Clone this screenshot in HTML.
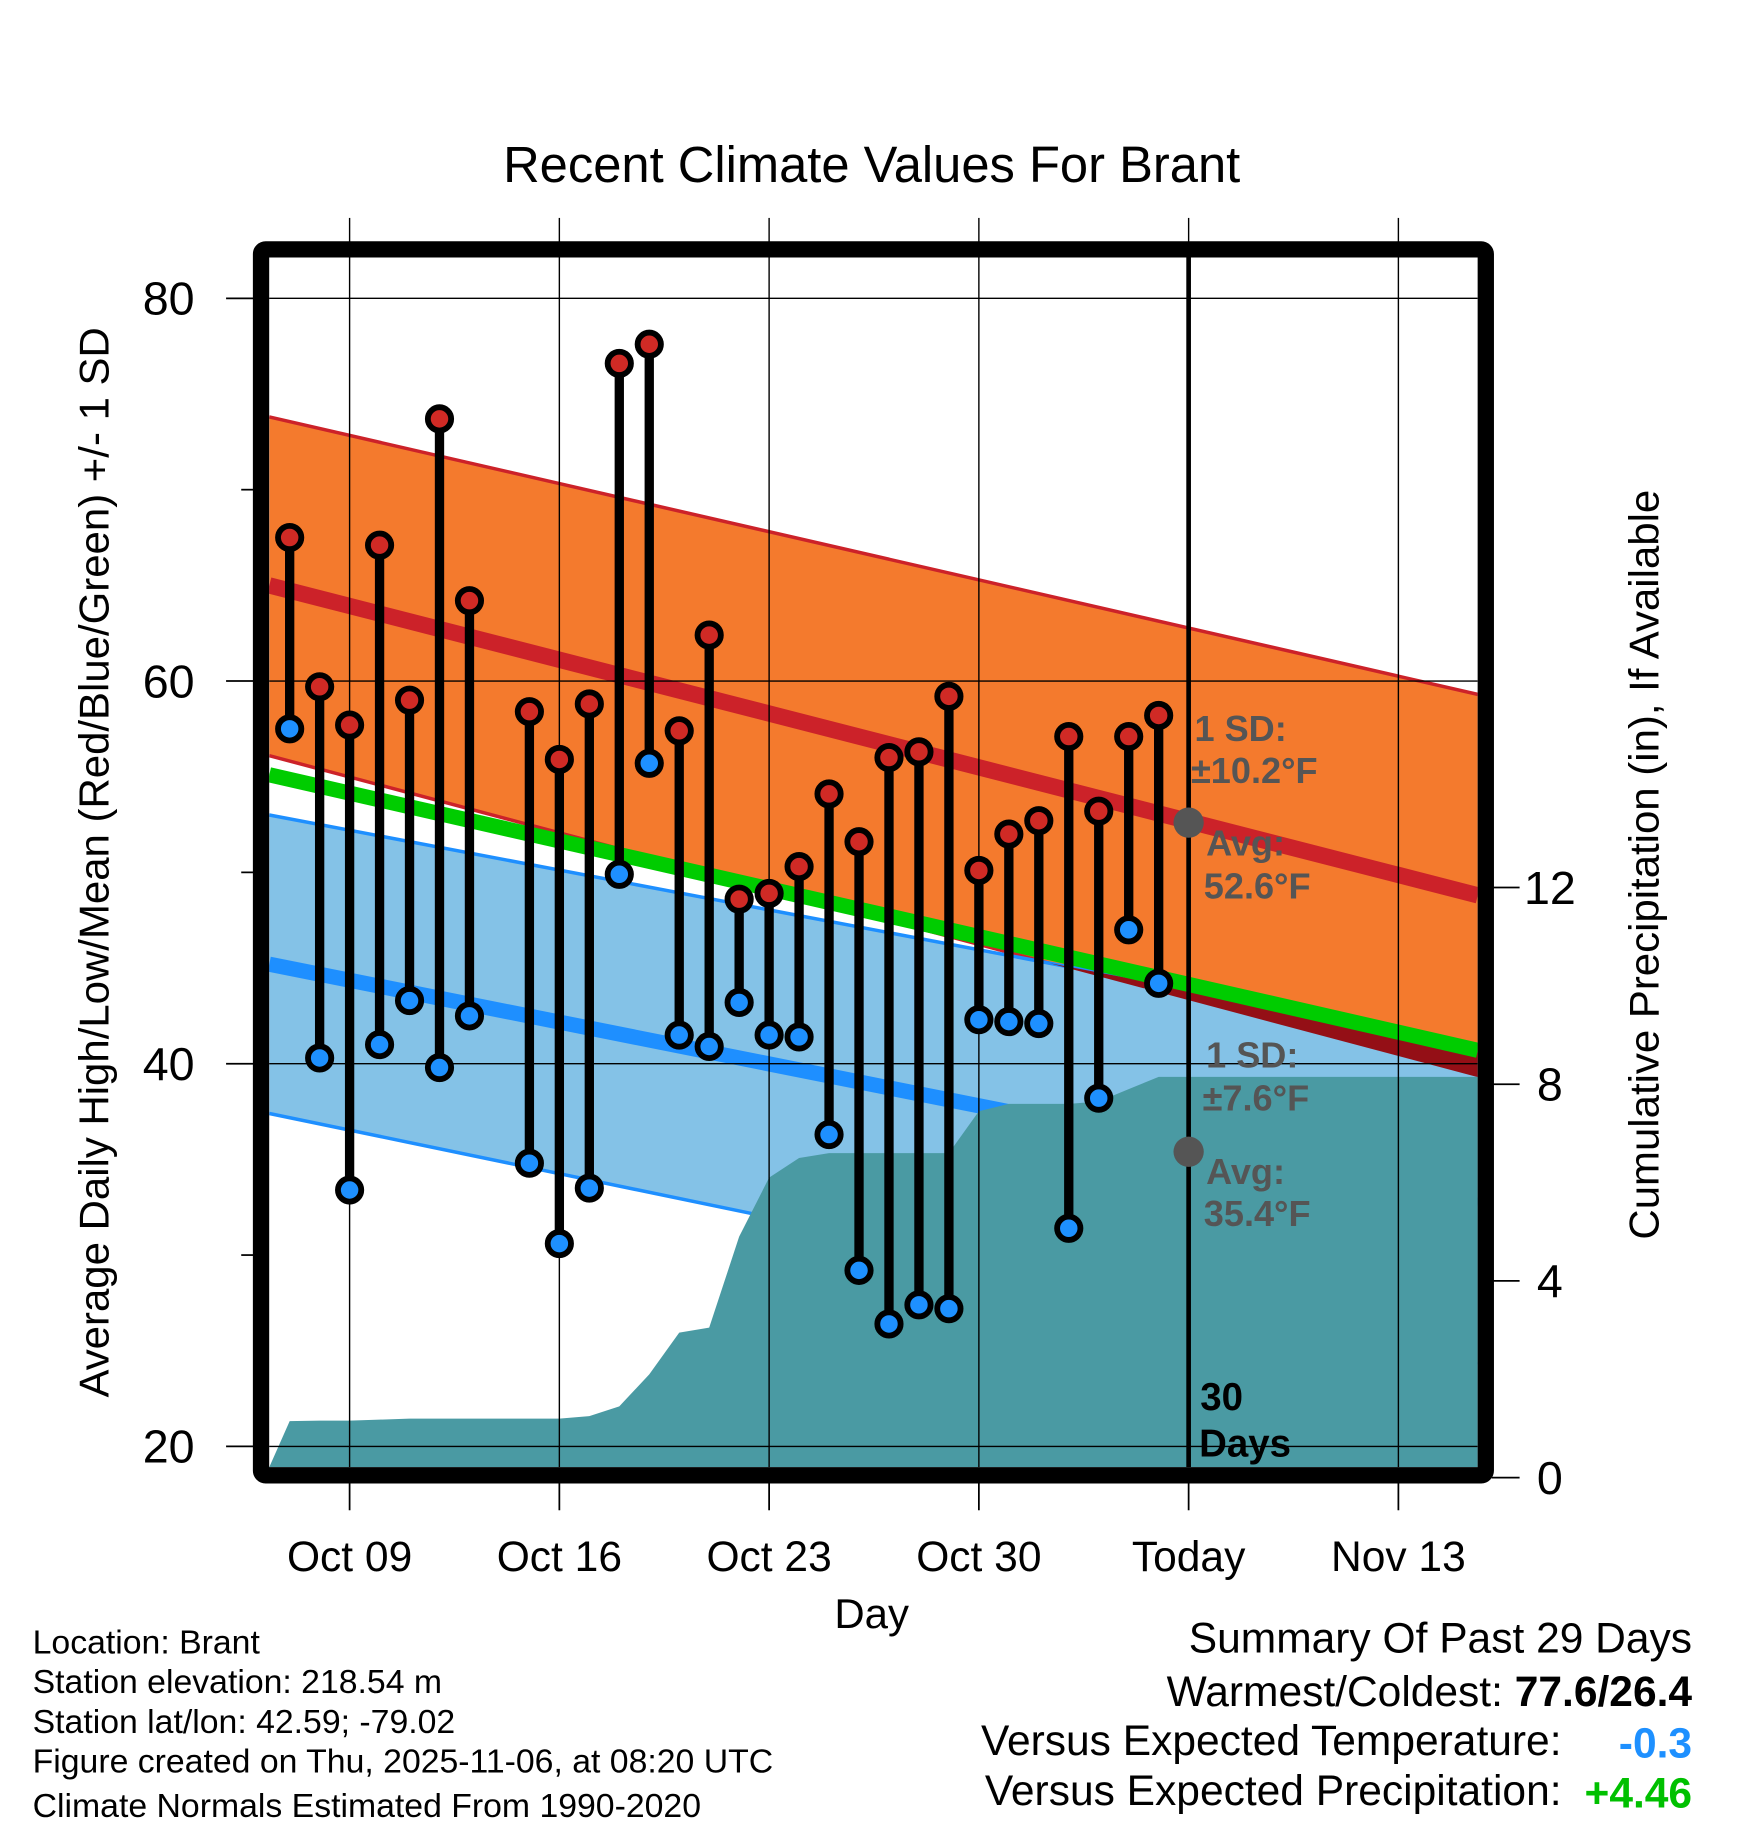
<!DOCTYPE html>
<html><head><meta charset="utf-8"><style>
html,body{margin:0;padding:0;background:#fff;}
svg{display:block;font-family:"Liberation Sans",Arial,sans-serif;}
</style></head><body>
<svg id="chart" width="1748" height="1828" viewBox="0 0 1500 1568.65" xmlns="http://www.w3.org/2000/svg">
<defs><clipPath id="plotclip"><rect x="231" y="221" width="1037" height="1038"/></clipPath></defs>
<text x="748" y="156" font-size="43.5" text-anchor="middle">Recent Climate Values For Brant</text>
<g id="grid-above"></g>
<g id="plot" clip-path="url(#plotclip)"></g>
<rect x="224" y="214" width="1051" height="1052" fill="none" stroke="#000" stroke-width="14" rx="4"/>
<g id="axes"></g>
<text transform="translate(93,740) rotate(-90)" font-size="36" text-anchor="middle">Average Daily High/Low/Mean (Red/Blue/Green) +/- 1 SD</text>
<text transform="translate(1423,742) rotate(-90)" font-size="36" text-anchor="middle">Cumulative Precipitation (in), If Available</text>
<text x="748" y="1397" font-size="36" text-anchor="middle">Day</text>
<g font-size="29">
<text x="28" y="1419">Location: Brant</text>
<text x="28" y="1453">Station elevation: 218.54 m</text>
<text x="28" y="1487">Station lat/lon: 42.59; -79.02</text>
<text x="28" y="1521">Figure created on Thu, 2025-11-06, at 08:20 UTC</text>
<text x="28" y="1559">Climate Normals Estimated From 1990-2020</text>
</g>
<g font-size="36.5" text-anchor="end">
<text x="1452" y="1418">Summary Of Past 29 Days</text>
<text x="1452" y="1464">Warmest/Coldest:  <tspan font-weight="bold">77.6/26.4</tspan></text>
<text x="1340" y="1506">Versus Expected Temperature:</text>
<text x="1452" y="1508" fill="#1e90ff" font-weight="bold">-0.3</text>
<text x="1340" y="1549">Versus Expected Precipitation:</text>
<text x="1452" y="1551" fill="#00c000" font-weight="bold">+4.46</text>
</g>
</svg>
<script>
// ---- data ----
const normalDays = [-2.68, 37.65];
const highUpper = [73.8, 59.3];
const highMean = [65.0, 48.8];
const highLower = [56.1, 39.3];
const lowUpper = [53.0, 41.0];
const lowMean = [45.2, 32.6];
const lowLower = [37.4, 24.3];
const obsDays = [-2,-1,0,1,2,3,4,6,7,8,9,10,11,12,13,14,15,16,17,18,19,20,21,22,23,24,25,26,27];
const highs = [67.5,59.7,57.7,67.1,59.0,73.7,64.2,58.4,55.9,58.8,76.6,77.6,57.4,62.4,48.6,48.9,50.3,54.1,51.6,56.0,56.3,59.2,50.1,52.0,52.7,57.1,53.2,57.1,58.2];
const lows = [57.5,40.3,33.4,41.0,43.3,39.8,42.5,34.8,30.6,33.5,49.9,55.7,41.5,40.9,43.2,41.5,41.4,36.3,29.2,26.4,27.4,27.2,42.3,42.2,42.1,31.4,38.2,47.0,44.2];
const precipDays = [-2,-1,0,1,2,3,4,5,6,7,8,9,10,11,12,13,14,15,16,17,18,19,20,21,22,23,24,25,26,27];
const precipVals = [1.15,1.16,1.16,1.18,1.2,1.2,1.2,1.2,1.2,1.2,1.25,1.45,2.1,2.95,3.05,4.9,6.1,6.5,6.6,6.6,6.6,6.6,6.6,7.45,7.6,7.6,7.6,7.65,7.9,8.15];
const xTickDays = [0,7,14,21,28,35];
const xTickLabels = ["Oct 09","Oct 16","Oct 23","Oct 30","Today","Nov 13"];
const yTicks = [80,60,40,20];
const yMinor = [70,50,30];
const y2Ticks = [0,4,8,12];
const todayDay = 28;
const avgHigh = 52.6, avgLow = 35.4;

// ---- axes ----
const X = d => 300 + d * 25.714;
const Y = t => 256 + (80 - t) * 16.42;
const Y2 = p => 1268 - p * 42.2;
const NS = "http://www.w3.org/2000/svg";
function mk(parent, tag, attrs){const e=document.createElementNS(NS,tag);for(const k in attrs)e.setAttribute(k,attrs[k]);parent.appendChild(e);return e;}
const plot = document.getElementById('plot');
const axes = document.getElementById('axes');
const above = document.getElementById('grid-above');
const lerp = (arr, d) => arr[0] + (arr[1]-arr[0])*(d-normalDays[0])/(normalDays[1]-normalDays[0]);
const d0 = normalDays[0], d1 = normalDays[1];
function band(up, lo, fill, name){
  const p = mk(plot,'polygon',{points:`${X(d0)},${Y(up[0])} ${X(d1)},${Y(up[1])} ${X(d1)},${Y(lo[1])} ${X(d0)},${Y(lo[0])}`,fill:fill});
  
  
}
function line(arr, color, w, name){
  const l = mk(plot,'line',{x1:X(d0),y1:Y(arr[0]),x2:X(d1),y2:Y(arr[1]),stroke:color,'stroke-width':w});
  
  
}
band(highUpper, highLower, '#f47a2d', 'high-sd-band');
line(highUpper,'#cc2229',3,'high-upper-line');
line(highLower,'#cc2229',3,'high-lower-line');
line(highMean,'#cc2229',14,'high-mean-line');
band(lowUpper, lowLower, '#84c2e7', 'low-sd-band');
line(lowUpper,'#1e8fff',3,'low-upper-line');
line(lowLower,'#1e8fff',3,'low-lower-line');
line(lowMean,'#1e8fff',13,'low-mean-line');
// overlap (dark red) region
{
  const diff = d => lerp(lowUpper,d) - lerp(highLower,d);
  const a = diff(d0), b = diff(d1);
  if (b > 0 && a < 0) {
    const dc = d0 + (d1-d0)*(-a)/(b-a);
    const p = mk(plot,'polygon',{points:`${X(dc)},${Y(lerp(highLower,dc))} ${X(d1)},${Y(lerp(lowUpper,d1))} ${X(d1)},${Y(lerp(highLower,d1))}`,fill:'#940f16'});
    
    
  }
}
const meanArr = [(highMean[0]+lowMean[0])/2,(highMean[1]+lowMean[1])/2];
line(meanArr,'#00cc00',13,'mean-line');
// precipitation
{
  let pts = `${X(d0)},1262 ${X(d0)},1259 `;
  precipDays.forEach((d,i)=>{pts += `${X(d)},${Y2(precipVals[i])} `;});
  pts += `${X(d1)},${Y2(precipVals[precipVals.length-1])} ${X(d1)},1262`;
  const p = mk(plot,'polygon',{points:pts,fill:'#4a9aa3'});
  
  
}
// grid
yTicks.forEach(t=>{
  const g = mk(plot,'line',{x1:194,x2:1268,y1:Y(t),y2:Y(t),stroke:'#000','stroke-width':1.2});
  
  
  const tk = mk(axes,'line',{x1:194,x2:220,y1:Y(t),y2:Y(t),stroke:'#000','stroke-width':1.5});
  
  
  const lb = mk(axes,'text',{x:167,y:Y(t)+14,'font-size':40,'text-anchor':'end'});
  lb.textContent = t;
  
  
});
yMinor.forEach(t=>{
  const tk = mk(axes,'line',{x1:207,x2:220,y1:Y(t),y2:Y(t),stroke:'#000','stroke-width':1.5});
  
  
});
xTickDays.forEach((d,i)=>{
  const g = mk(plot,'line',{x1:X(d),x2:X(d),y1:221,y2:1259,stroke:'#000','stroke-width':1.2});
  
  
  const ga = mk(above,'line',{x1:X(d),x2:X(d),y1:187,y2:210,stroke:'#000','stroke-width':1.2});
  
  
  const tk = mk(axes,'line',{x1:X(d),x2:X(d),y1:1270,y2:1296,stroke:'#000','stroke-width':1.5});
  
  
  const lb = mk(axes,'text',{x:X(d),y:1348,'font-size':36.5,'text-anchor':'middle'});
  lb.textContent = xTickLabels[i];
  
  
});
y2Ticks.forEach(p=>{
  const tk = mk(axes,'line',{x1:1280,x2:1304,y1:Y2(p),y2:Y2(p),stroke:'#000','stroke-width':1.5});
  
  
  const lb = mk(axes,'text',{x:1330,y:Y2(p)+14,'font-size':40,'text-anchor':'middle'});
  lb.textContent = p;
  
  
});
// today line
{
  const l = mk(plot,'line',{x1:X(todayDay),x2:X(todayDay),y1:221,y2:1259,stroke:'#000','stroke-width':4});
  
  
}
// stems & markers
obsDays.forEach((d,i)=>{
  const s = mk(plot,'line',{x1:X(d),x2:X(d),y1:Y(highs[i]),y2:Y(lows[i]),stroke:'#000','stroke-width':8});
  
  
});
obsDays.forEach((d,i)=>{
  const h = mk(plot,'circle',{cx:X(d),cy:Y(highs[i]),r:10,fill:'#d02a25',stroke:'#000','stroke-width':5});
  
  
  const l = mk(plot,'circle',{cx:X(d),cy:Y(lows[i]),r:10,fill:'#1e90ff',stroke:'#000','stroke-width':5});
  
  
});
// avg markers & annotations
[avgHigh, avgLow].forEach((v,i)=>{
  const c = mk(plot,'circle',{cx:X(todayDay),cy:Y(v),r:13,fill:'#555'});
  
  
});
const ann = [
  ['1 SD:',1025,636,'sd-high-label'],['±10.2°F',1022,672,'sd-high-value'],
  ['Avg:',1035,734,'avg-high-label'],['52.6°F',1033,771,'avg-high-value'],
  ['1 SD:',1035,916,'sd-low-label'],['±7.6°F',1032,953,'sd-low-value'],
  ['Avg:',1035,1016,'avg-low-label'],['35.4°F',1033,1052,'avg-low-value']
];
ann.forEach(a=>{
  const t = mk(plot,'text',{x:a[1],y:a[2],'font-size':31,'font-weight':'bold',fill:'#555'});
  t.textContent = a[0];
  
  
});
[['30',1030,1210,'days-count'],['Days',1029,1250,'days-label']].forEach(a=>{
  const t = mk(plot,'text',{x:a[1],y:a[2],'font-size':33,'font-weight':'bold',fill:'#000'});
  t.textContent = a[0];
  
  
});
</script>
</body></html>
